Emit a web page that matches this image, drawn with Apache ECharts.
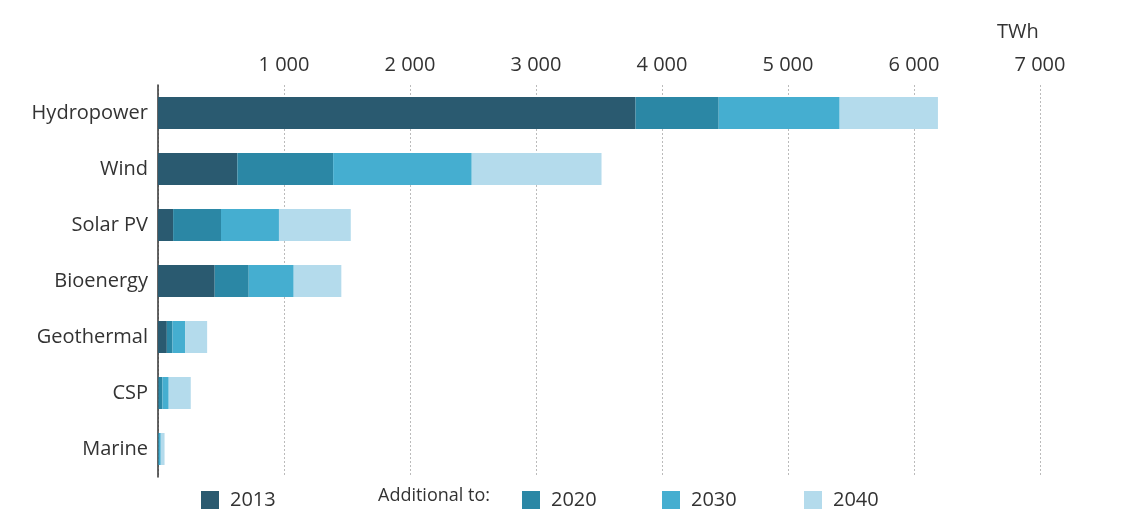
<!DOCTYPE html>
<html>
<head>
<meta charset="utf-8">
<script src="https://cdn.jsdelivr.net/npm/echarts@6/dist/echarts.min.js"></script>
<style>
  html, body { margin: 0; padding: 0; background: #fff; }
  #chart { width: 1121px; height: 511px; }
</style>
</head>
<body>
<div id="chart"></div>
<script>
// categories, top to bottom
const categories = ['Hydropower', 'Wind', 'Solar PV', 'Bioenergy', 'Geothermal', 'CSP', 'Marine'];

// TWh, 2013 base and additions to each later year
const gen2013 = [3790, 630, 120, 450, 70, 5, 2];
const add2020 = [660, 760, 380, 270, 45, 30, 5];
const add2030 = [960, 1100, 460, 357, 100, 50, 15];
const add2040 = [780, 1030, 570, 378, 175, 175, 30];

const seriesNames = ['2013', '2020', '2030', '2040'];
const seriesColors = ['#2a5a70', '#2b87a5', '#45aed0', '#b4dbec'];
const seriesData = [gen2013, add2020, add2030, add2040];

const font = 'Open Sans';
const chart = echarts.init(document.getElementById('chart'));

// one legend per item so each can sit where the original puts it
const legendX = [196, 517, 657, 799];
const legends = seriesNames.map((n, i) => ({
    data: [n],
    left: legendX[i],
    top: 485,
    icon: 'rect',
    itemWidth: 18,
    itemHeight: 18,
    itemGap: 10,
    selectedMode: false,
    textStyle: { fontFamily: font, fontSize: 20, color: '#333', padding: [0, 0, 0, 6] }
}));

const options = {
    animation: false,
    grid: { left: 158, right: 81, top: 85, bottom: 34 },
    legend: legends,
    graphic: [
        {
            type: 'text', left: 997, top: 22,
            style: { text: 'TWh', fontFamily: font, fontSize: 20, fill: '#333' }
        },
        {
            type: 'text', left: 378, top: 487,
            style: { text: 'Additional to:', fontFamily: font, fontSize: 18, fill: '#333' }
        }
    ],
    xAxis: {
        type: 'value',
        position: 'top',
        min: 0,
        max: 7000,
        interval: 1000,
        axisLine: { show: false },
        axisTick: { show: false },
        axisLabel: {
            fontFamily: font,
            fontSize: 20,
            color: '#333',
            margin: 10,
            formatter: v => v === 0 ? '' : String(v).replace(/\B(?=(\d{3})+(?!\d))/g, ' ')
        },
        splitLine: { lineStyle: { color: '#bbb', type: [2, 2], width: 1 } }
    },
    yAxis: {
        type: 'category',
        inverse: true,
        data: categories,
        axisLine: { lineStyle: { color: '#333', width: 1.5 } },
        axisTick: { length: 5, lineStyle: { color: '#333' } },
        axisLabel: { fontFamily: font, fontSize: 20, color: '#333', margin: 10 }
    },
    series: seriesNames.map((n, i) => ({
        name: n,
        type: 'bar',
        stack: 'total',
        barWidth: 32,
        itemStyle: { color: seriesColors[i] },
        data: seriesData[i]
    }))
};

chart.setOption(options);
</script>
</body>
</html>
